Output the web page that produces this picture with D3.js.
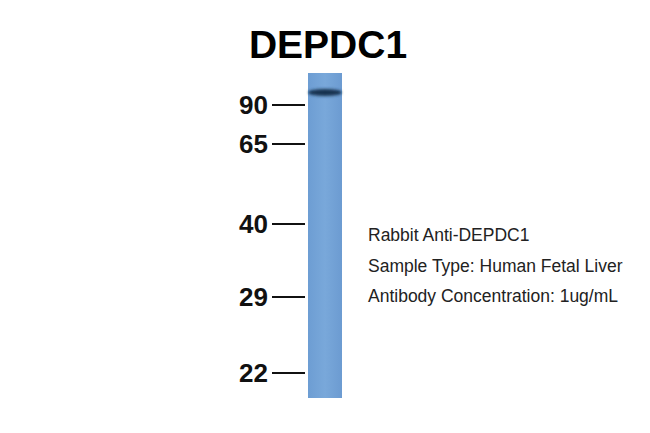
<!DOCTYPE html>
<html><head><meta charset="utf-8">
<script src="https://cdn.jsdelivr.net/npm/d3@7"></script>
<style>body{margin:0;background:#fff}</style>
</head><body><div id="blot"></div>
<script>
var markers = [90, 65, 40, 29, 22];
var markerY = [105, 144, 224, 297, 373];
var bands = [{kda: 98, strength: 1}];
var notes = ["Rabbit Anti-DEPDC1", "Sample Type: Human Fetal Liver", "Antibody Concentration: 1ug/mL"];

var svg = d3.select("#blot").append("svg").attr("width", 650).attr("height", 433);
var y = d3.scaleLinear().domain(markers).range(markerY);

svg.append("text").attr("x", 328).attr("y", 58).attr("text-anchor", "middle")
  .attr("font-family", "Liberation Sans, Arial").attr("font-weight", "bold")
  .attr("font-size", 39).text("DEPDC1");

var defs = svg.append("defs");
var g = defs.append("linearGradient").attr("id", "lane").attr("x1", 0).attr("x2", 1);
g.append("stop").attr("offset", 0).attr("stop-color", "#6d9dd3");
g.append("stop").attr("offset", 0.5).attr("stop-color", "#79a8da");
g.append("stop").attr("offset", 1).attr("stop-color", "#6c9bd1");
var bl = defs.append("filter").attr("id", "blur").attr("x", "-20%").attr("y", "-100%").attr("width", "140%").attr("height", "300%");
bl.append("feGaussianBlur").attr("stdDeviation", "1.2 1.5");

svg.append("rect").attr("x", 308).attr("y", 73).attr("width", 34).attr("height", 325).attr("fill", "url(#lane)");

svg.selectAll(".band").data(bands).enter().append("ellipse")
  .attr("cx", 325).attr("cy", function(d){ return y(d.kda); })
  .attr("rx", 17).attr("ry", 3.5).attr("fill", "#12324f")
  .attr("opacity", function(d){ return d.strength; }).attr("filter", "url(#blur)");

var tk = svg.selectAll(".tick").data(markers).enter().append("g")
  .attr("transform", function(d){ return "translate(0," + y(d) + ")"; });
tk.append("line").attr("x1", 272).attr("x2", 305).attr("stroke", "#111").attr("stroke-width", 2);
tk.append("text").attr("x", 268).attr("dy", "0.36em").attr("text-anchor", "end")
  .attr("font-family", "Liberation Sans, Arial").attr("font-weight", "bold")
  .attr("font-size", 26).attr("fill", "#111").text(function(d){ return d; });

svg.selectAll(".note").data(notes).enter().append("text")
  .attr("x", 368).attr("y", function(d, i){ return 241 + i * 30.5; })
  .attr("font-family", "Liberation Sans, Arial").attr("font-size", 17.5).attr("fill", "#222")
  .text(function(d){ return d; });
</script></body></html>
